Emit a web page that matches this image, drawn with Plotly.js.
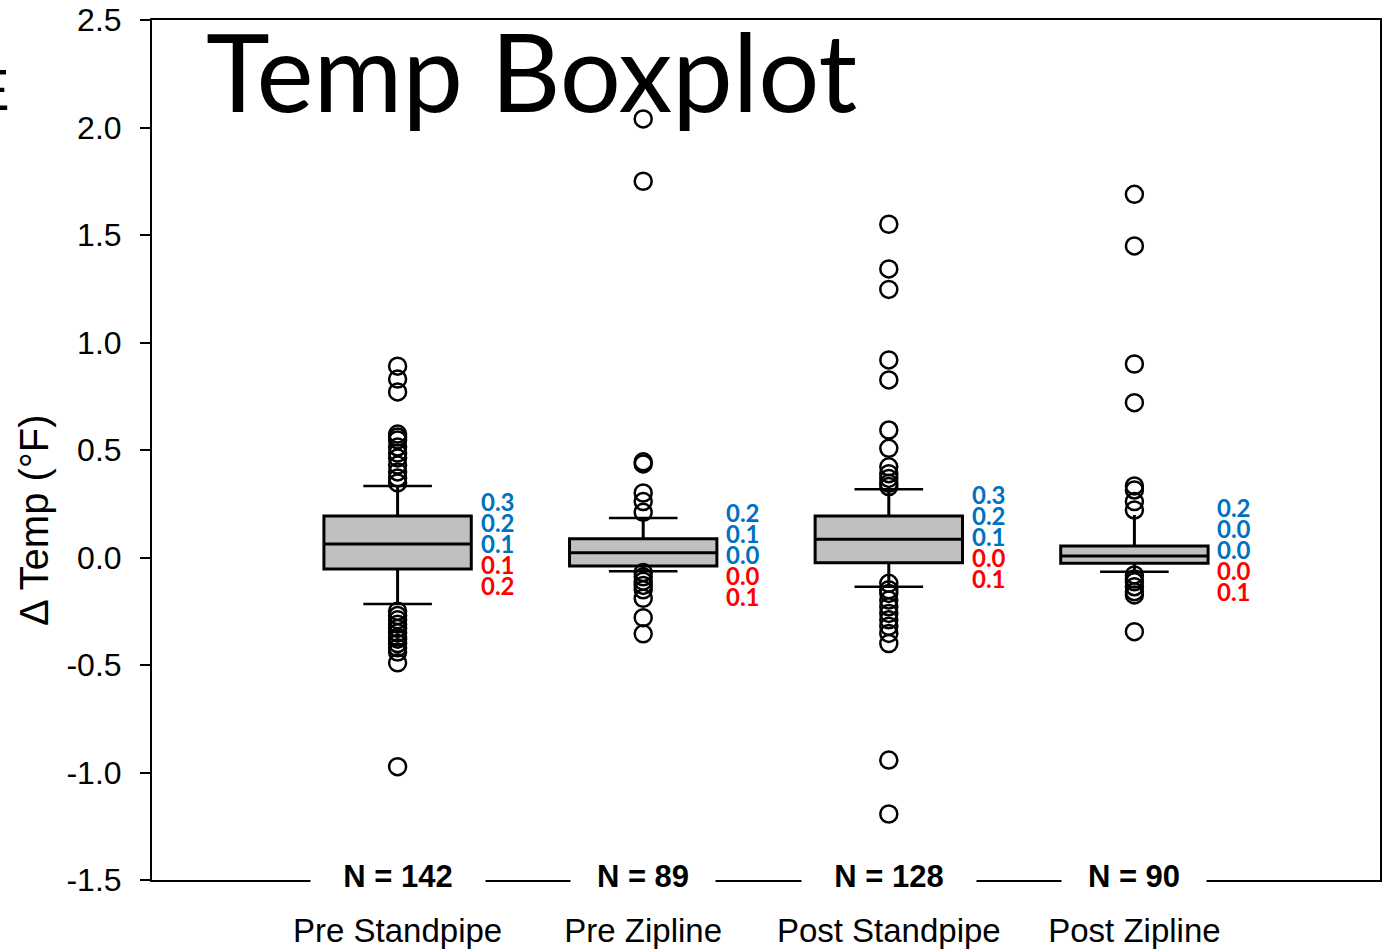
<!DOCTYPE html>
<html>
<head>
<meta charset="utf-8">
<script src="https://cdn.plot.ly/plotly-3.0.1.min.js"></script>
<style>html,body{margin:0;padding:0;background:#fff;}#chart{width:1387px;height:950px;}</style>
</head>
<body>
<div id="chart"></div>
<script>
// ---- data ----
const categories = ['Pre Standpipe', 'Pre Zipline', 'Post Standpipe', 'Post Zipline'];
const nCounts = [142, 89, 128, 90];
const q1 = [-0.053, -0.040, -0.024, -0.027];
const median = [0.063, 0.022, 0.085, 0.007];
const q3 = [0.193, 0.087, 0.193, 0.053];
const lowerWhisker = [-0.216, -0.064, -0.136, -0.066];
const upperWhisker = [0.333, 0.184, 0.317, 0.198];
const upperCaps = [0.333, 0.184, 0.317, null];
const lowerCaps = [-0.216, -0.064, -0.136, -0.066];

const outPreStandpipe = [0.89, 0.83, 0.77, 0.574, 0.56, 0.547, 0.514, 0.486, 0.463, 0.43, 0.398, 0.37, 0.347,
  -0.25, -0.27, -0.29, -0.31, -0.33, -0.35, -0.37, -0.38, -0.40, -0.42, -0.44, -0.49, -0.973];
const outPreZipline = [2.04, 1.75, 0.445, 0.435, 0.30, 0.26, 0.21,
  -0.07, -0.09, -0.11, -0.13, -0.15, -0.19, -0.28, -0.355];
const outPostStandpipe = [1.55, 1.342, 1.247, 0.919, 0.826, 0.593, 0.508, 0.422, 0.39, 0.368, 0.345, 0.33,
  -0.12, -0.15, -0.167, -0.198, -0.229, -0.26, -0.29, -0.32, -0.353, -0.40, -0.942, -1.193];
const outPostZipline = [1.689, 1.449, 0.90, 0.72, 0.333, 0.314, 0.26, 0.221,
  -0.081, -0.1, -0.113, -0.136, -0.159, -0.174, -0.345];

const labelUpperWhisker = ['0.3', '0.2', '0.3', '0.2'];
const labelQ3 = ['0.2', '0.1', '0.2', '0.0'];
const labelMedian = ['0.1', '0.0', '0.1', '0.0'];
const labelQ1 = ['0.1', '0.0', '0.0', '0.0'];
const labelLowerWhisker = ['0.2', '0.1', '0.1', '0.1'];

const yTickVals = [-1.5, -1.0, -0.5, 0.0, 0.5, 1.0, 1.5, 2.0, 2.5];
const yTickText = ['-1.5', '-1.0', '-0.5', '0.0', '0.5', '1.0', '1.5', '2.0', '2.5'];

const chartTitle = 'Temp Boxplot';
const yTitle = 'Δ Temp (°F)';

// ---- build traces ----
const pos = categories.map((c, i) => i);
const outliers = [outPreStandpipe, outPreZipline, outPostStandpipe, outPostZipline];

const boxTrace = {
  type: 'box', x: pos, q1: q1, median: median, q3: q3,
  lowerfence: lowerWhisker, upperfence: upperWhisker,
  width: 0.6, whiskerwidth: 0, boxpoints: false,
  fillcolor: '#c0c0c0', line: {color: '#000', width: 3},
  hoverinfo: 'skip'
};
const capTrace = {
  type: 'scatter', mode: 'markers',
  x: pos.concat(pos), y: upperCaps.concat(lowerCaps),
  marker: {symbol: 'line-ew', size: 49, color: '#000', line: {color: '#000', width: 2.5}},
  hoverinfo: 'skip'
};
const outX = [], outY = [];
outliers.forEach((arr, i) => arr.forEach(v => { outX.push(i); outY.push(v); }));
const outTrace = {
  type: 'scatter', mode: 'markers', x: outX, y: outY,
  marker: {symbol: 'circle-open', size: 17, color: '#000', line: {width: 2.5}},
  hoverinfo: 'skip'
};

// ---- annotations ----
const annotations = [];
const blue = '#0070C0', red = '#FF0000';
const rowCorr = [0, -2, 3, 7];
pos.forEach(i => {
  const rows = [[labelUpperWhisker[i], blue], [labelQ3[i], blue], [labelMedian[i], blue], [labelQ1[i], red], [labelLowerWhisker[i], red]];
  rows.forEach((r, k) => {
    annotations.push({
      xref: 'x', yref: 'y', x: i + 0.33, y: median[i], xanchor: 'left', yanchor: 'middle',
      yshift: (2 - k) * 21 + rowCorr[i], text: r[0], showarrow: false,
      font: {family: 'Lato, sans-serif', size: 24, color: r[1], weight: 'bold'}
    });
  });
  const nText = 'N = ' + nCounts[i];
  annotations.push({
    xref: 'x', yref: 'y', x: i, y: -1.5, xanchor: 'center', yanchor: 'middle', yshift: 4,
    text: nText, showarrow: false, bgcolor: '#fff', width: 142 + (nText.length - 6) * 30, height: 40,
    font: {family: 'Liberation Sans, Arial, sans-serif', size: 31, color: '#000', weight: 'bold'}
  });
});
annotations.push({
  xref: 'paper', yref: 'paper', x: (204 - 152) / 1228, y: 1 - (70 - 20) / 860,
  xanchor: 'left', yanchor: 'middle', text: chartTitle, showarrow: false,
  font: {family: 'Lato, sans-serif', size: 108, color: '#000'}
});
annotations.push({
  xref: 'paper', yref: 'paper', x: (12 - 152) / 1228, y: 1 - (89 - 20) / 860,
  xanchor: 'right', yanchor: 'middle', text: 'E', showarrow: false,
  font: {family: 'Liberation Sans, Arial, sans-serif', size: 58, color: '#000'}
});
annotations.push({
  xref: 'paper', yref: 'paper', x: (34 - 152) / 1228, y: 1 - (520 - 20) / 860,
  xanchor: 'center', yanchor: 'middle', textangle: -90, text: yTitle, showarrow: false,
  font: {family: 'Liberation Sans, Arial, sans-serif', size: 40, color: '#000'}
});

const layout = {
  width: 1387, height: 950,
  margin: {l: 152, r: 7, t: 20, b: 70, pad: 0},
  paper_bgcolor: '#fff', plot_bgcolor: '#fff',
  showlegend: false,
  font: {family: 'Liberation Sans, Arial, sans-serif', color: '#000'},
  xaxis: {
    range: [-1, 4], tickmode: 'array', tickvals: pos, ticktext: categories,
    ticks: '', showgrid: false, zeroline: false,
    showline: true, linecolor: '#000', linewidth: 2, mirror: true,
    tickfont: {size: 33, color: '#000'}, ticklabelstandoff: 20
  },
  yaxis: {
    range: [-1.5, 2.5], tickmode: 'array', tickvals: yTickVals, ticktext: yTickText,
    ticks: 'outside', ticklen: 10, tickwidth: 2, tickcolor: '#000',
    showgrid: false, zeroline: false,
    showline: true, linecolor: '#000', linewidth: 2, mirror: true,
    tickfont: {size: 32, color: '#000'}, ticklabelstandoff: 12,
    automargin: false
  },
  annotations: annotations
};

Plotly.newPlot('chart', [boxTrace, capTrace, outTrace], layout, {staticPlot: true, displayModeBar: false});
</script>
</body>
</html>
